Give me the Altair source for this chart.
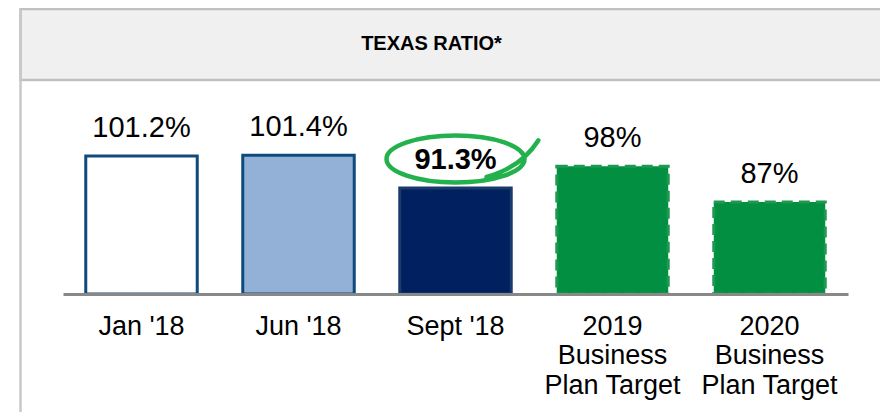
import altair as alt
import pandas as pd

# ---- data ----
categories = ["Jan '18", "Jun '18", "Sept '18",
              "2019\nBusiness\nPlan Target", "2020\nBusiness\nPlan Target"]
values = [101.2, 101.4, 91.3, 98, 87]
value_labels = ["101.2%", "101.4%", "91.3%", "98%", "87%"]
highlighted = [False, False, True, False, False]
title_text = ["TEXAS RATIO*"]

# ---- styles ----
fills = ["#ffffff", "#93b1d7", "#002060", "#038f42", "#038f42"]
strokes = ["#0f4a7c", "#0f4a7c", "#1b3a6c", "#1e9a50", "#1e9a50"]
stroke_widths = [3, 3, 1.5, 4, 4]
stroke_dashes = [[1, 0], [1, 0], [1, 0], [11, 6], [11, 6]]

AXIS_MIN = 58.6
AXIS_MAX = 123.1
PLOT_W, PLOT_H = 785, 209
FONT = "Liberation Sans"

df = pd.DataFrame({"cat": categories, "value": values,
                   "label": value_labels, "hl": highlighted})
one = pd.DataFrame({"t": title_text})

x = alt.X(
    "cat:N", sort=categories,
    scale=alt.Scale(paddingInner=0.29, paddingOuter=0.145),
    axis=alt.Axis(title=None, labelExpr="split(datum.label, '\\n')",
                  labelFont=FONT, labelFontSize=27, labelColor="black",
                  labelLineHeight=29.5, labelPadding=19, labelAngle=0,
                  labelLimit=300, ticks=False, domainColor="#888888",
                  domainWidth=3, zindex=1),
)
y = alt.Y("value:Q", scale=alt.Scale(domain=[AXIS_MIN, AXIS_MAX], zero=False, nice=False),
          axis=None)

header = alt.Chart(one).mark_rect(fill="#f0f0f0", stroke="#c0c0c0", strokeWidth=2.5).encode(
    x=alt.value(-42.5), x2=alt.value(900), y=alt.value(-76), y2=alt.value(-5))
left_border = alt.Chart(one).mark_rule(color="#c8c8c8", strokeWidth=2.5).encode(
    x=alt.value(-42.5), y=alt.value(-76), y2=alt.value(330))
title = alt.Chart(one).mark_text(font=FONT, fontSize=20, fontWeight="bold",
                                 color="black", baseline="middle").encode(
    text="t:N", x=alt.value(368.5), y=alt.value(-41))

bars = alt.Chart(df).mark_bar().encode(
    x=x, y=y, y2=alt.datum(AXIS_MIN),
    fill=alt.Fill("cat:N", scale=alt.Scale(domain=categories, range=fills), legend=None),
    stroke=alt.Stroke("cat:N", scale=alt.Scale(domain=categories, range=strokes), legend=None),
    strokeWidth=alt.StrokeWidth("cat:N", scale=alt.Scale(domain=categories, range=stroke_widths), legend=None),
    strokeDash=alt.StrokeDash("cat:N", scale=alt.Scale(domain=categories, range=stroke_dashes), legend=None),
)

labels = alt.Chart(df).transform_filter("!datum.hl").mark_text(
    font=FONT, fontSize=29, color="black", baseline="middle", dy=-28).encode(
    x=alt.X("cat:N", sort=categories), y=y, text="label:N")

ellipse_path = ("M -1 0 A 1 0.34 0 1 1 1 0 A 1 0.34 0 1 1 -1 0 "
                "M 0.45 0.26 Q 0.95 0.12 1.2 -0.27")
ellipse = alt.Chart(df).transform_filter("datum.hl").mark_point(
    shape=ellipse_path, size=19044, filled=False, stroke="#22b14c",
    strokeWidth=4.5, opacity=1, yOffset=-29, strokeCap="round").encode(
    x=alt.X("cat:N", sort=categories), y=y)

bold_labels = alt.Chart(df).transform_filter("datum.hl").mark_text(
    font=FONT, fontSize=29, fontWeight="bold", color="black",
    baseline="middle", dy=-28).encode(
    x=alt.X("cat:N", sort=categories), y=y, text="label:N")

chart = alt.layer(header, left_border, title, bars, labels, ellipse, bold_labels).properties(
    width=PLOT_W, height=PLOT_H,
    padding={"left": 55, "top": 77, "right": 32, "bottom": 118},
    autosize=alt.AutoSizeParams(type="none"),
).configure_view(strokeWidth=0)

chart.save("out.html", embed_options={"renderer": "svg", "actions": False})
